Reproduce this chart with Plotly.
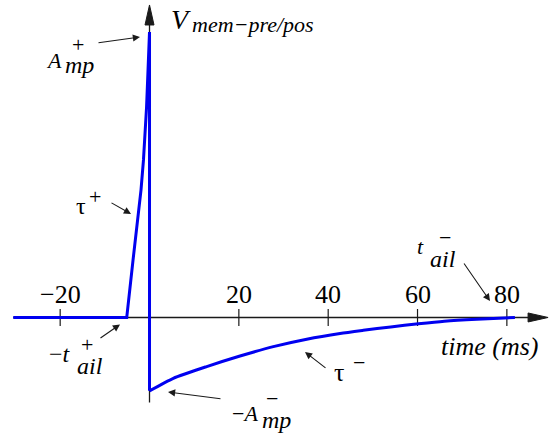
import plotly.graph_objects as go

# ---- data: membrane voltage trace (time in ms, amplitude normalised to A+) ----
A_PLUS = 1.0
A_MINUS = -0.257

# flat baseline, exponential rise up to the peak, then the drop at t = 0
t_rise = [-30.5, -5.1, -3.69, -2.66, -1.90, -1.35, -0.98, -0.66, -0.33, 0.0, 0.0]
v_rise = [0.0, 0.0, 0.201, 0.342, 0.447, 0.552, 0.639, 0.737, 0.867, A_PLUS, A_MINUS]

# exponential recovery of the negative lobe
t_decay = [0.0, 5.33, 12.81, 20.26, 27.72, 35.20, 42.66, 47.87, 54.0, 60.19, 66.0, 73.27, 81.8]
v_decay = [A_MINUS, -0.213, -0.172, -0.135, -0.102, -0.076, -0.056, -0.045, -0.033,
           -0.022, -0.013, -0.006, 0.0]

tick_values = [-20, 20, 40, 60, 80]
tick_labels = ["\u221220", "20", "40", "60", "80"]

# ---- geometry ----
W, H = 556, 433
T_RANGE = [-33.47, 91.0]
V_RANGE = [-0.4046, 1.112]
X_AXIS_START, X_AXIS_TIP = -30.5, 89.23
Y_AXIS_BOTTOM, Y_AXIS_TIP = -0.298, 1.0946

BLUE = "#0000f0"
INK = "#1a1a1a"
FONT = "Liberation Serif"

fig = go.Figure()
fig.add_trace(go.Scatter(x=t_rise, y=v_rise, mode="lines",
                         line=dict(color=BLUE, width=3), hoverinfo="skip"))
fig.add_trace(go.Scatter(x=t_decay, y=v_decay, mode="lines",
                         line=dict(color=BLUE, width=3, shape="spline", smoothing=0.6),
                         hoverinfo="skip"))

shapes = []
# axis lines
shapes.append(dict(type="line", xref="x", yref="y", x0=X_AXIS_START, x1=X_AXIS_TIP - 3,
                   y0=0, y1=0, line=dict(color=INK, width=1.3), layer="below"))
shapes.append(dict(type="line", xref="x", yref="y", x0=0, x1=0,
                   y0=Y_AXIS_BOTTOM, y1=Y_AXIS_TIP - 0.05, line=dict(color=INK, width=1.3),
                   layer="below"))
# arrowheads of the axes
shapes.append(dict(type="path", xref="x", yref="y", xsizemode="pixel", ysizemode="pixel",
                   xanchor=X_AXIS_TIP, yanchor=0,
                   path="M 0,0 L -20,4.5 L -20,-4.5 Z",
                   fillcolor=INK, line=dict(color=INK, width=1)))
shapes.append(dict(type="path", xref="x", yref="y", xsizemode="pixel", ysizemode="pixel",
                   xanchor=0, yanchor=Y_AXIS_TIP,
                   path="M 0,0 L -4.5,-20 L 4.5,-20 Z",
                   fillcolor=INK, line=dict(color=INK, width=1)))
# tick marks crossing the time axis
for tv in tick_values:
    shapes.append(dict(type="line", xref="x", yref="y", x0=tv, x1=tv,
                       ysizemode="pixel", yanchor=0, y0=-8.5, y1=8.5,
                       line=dict(color=INK, width=1.2), layer="below"))

annotations = []
for tv, tl in zip(tick_values, tick_labels):
    annotations.append(dict(x=tv, y=0, xref="x", yref="y", text=tl, showarrow=False,
                            yshift=22.5, xanchor="center", yanchor="middle",
                            font=dict(family=FONT, size=26, color="black")))


def label(text, px, py, size=22, xanchor="center"):
    annotations.append(dict(x=px / W, y=1 - py / H, xref="paper", yref="paper",
                            text=text, showarrow=False, xanchor=xanchor, yanchor="middle",
                            font=dict(family=FONT, size=size, color="black")))


def pointer(tail, tip):
    annotations.append(dict(x=tip[0] / W, y=1 - tip[1] / H, xref="paper", yref="paper",
                            ax=tail[0] - tip[0], ay=tail[1] - tip[1], text="",
                            showarrow=True, arrowhead=2, arrowsize=1.3, arrowwidth=1.1,
                            arrowcolor=INK, standoff=0))


# axis titles
label("<i>V</i>", 181, 19.6, size=28)
label("<i>mem\u2212pre/pos</i>", 190, 25, size=22, xanchor="left")
label("<i>time (ms)</i>", 489, 346, size=26)

# A+mp
label("<i>A</i>", 54, 60, size=22)
label("<i>mp</i>", 63, 65, size=24, xanchor="left")
label("+", 77.5, 44, size=22)
pointer((97, 43), (140, 37))

# tau+
label("\u03c4", 81, 206, size=24)
label("+", 95.5, 196, size=22)
pointer((110, 202), (131, 214))

# -t+ail
label("\u2212<i>t</i>", 73, 354, size=24, xanchor="right")
label("<i>ail</i>", 75, 366, size=24, xanchor="left")
label("+", 87, 344, size=22)
pointer((99, 339), (120, 324.5))

# -A-mp
label("\u2212<i>A</i>", 260, 413, size=22, xanchor="right")
label("<i>mp</i>", 260, 420, size=24, xanchor="left")
label("\u2212", 271.5, 398, size=22)
pointer((222, 399), (168, 392))

# tau-
label("\u03c4", 339, 372, size=26)
label("\u2212", 358.5, 362, size=22)
pointer((327, 369), (305, 352))

# t-ail
label("<i>t</i>", 420.5, 246, size=22)
label("\u2212", 445, 237, size=22)
label("<i>ail</i>", 428, 259, size=24, xanchor="left")
pointer((463, 262), (490, 301))

fig.update_layout(
    width=W, height=H,
    margin=dict(l=0, r=0, t=0, b=0),
    paper_bgcolor="white", plot_bgcolor="white",
    font=dict(family=FONT),
    showlegend=False,
    xaxis=dict(range=T_RANGE, visible=False, fixedrange=True),
    yaxis=dict(range=V_RANGE, visible=False, fixedrange=True),
    shapes=shapes,
    annotations=annotations,
)

fig.write_html("out.html")
